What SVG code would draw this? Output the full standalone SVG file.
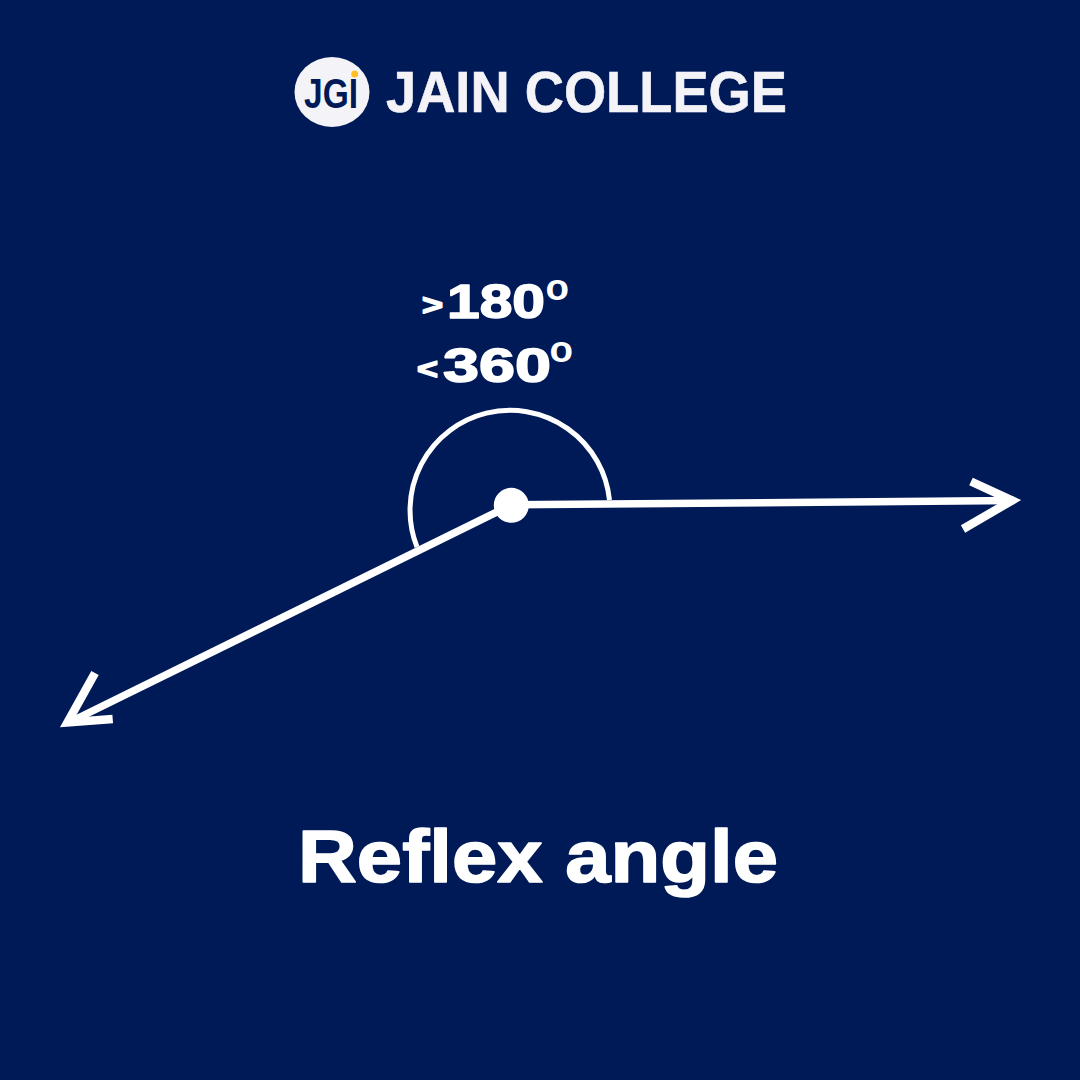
<svg xmlns="http://www.w3.org/2000/svg" width="1080" height="1080" viewBox="0 0 1080 1080">
<style>
.t{font-family:"Liberation Sans",Arial,sans-serif;font-weight:700;fill:#fff}
.b{stroke:#fff;stroke-width:1.600;stroke-linejoin:round}
.l{fill:none;stroke:#fff;stroke-width:7.500}
.h{fill:none;stroke:#fff;stroke-width:8.500;stroke-linejoin:miter;stroke-miterlimit:10}
</style>
<rect width="1080" height="1080" fill="#001a58"/>
<g id="logo">
<ellipse cx="332" cy="92" rx="37.500" ry="35" fill="#f4f4f8"/>
<text class="t" x="304" y="108" font-size="42" textLength="54" lengthAdjust="spacingAndGlyphs" style="fill:#001a58">JGI</text>
<circle cx="354.700" cy="74" r="3.500" fill="#fdc020"/>
<text class="t" x="386" y="111.500" font-size="57" textLength="401" lengthAdjust="spacingAndGlyphs" style="fill:#f4f4f8;stroke:#f4f4f8;stroke-width:.6">JAIN COLLEGE</text>
</g>
<g id="connectors">
<path class="l" d="M511 504.800 L1014 500.600"/>
<path class="h" d="M971 481.500 L1012 500.500 L963 529"/>
<path class="l" d="M511 505 L68 723"/>
<path class="h" d="M95 673 L67.500 722.500 L112.700 719"/>
<path d="M609.500 500 A100 100 0 1 0 417 547" fill="none" stroke="#fff" stroke-width="5"/>
</g>
<g id="vertex"><circle cx="511.300" cy="505.300" r="17.500" fill="#fff"/></g>
<g id="label-180">
<text class="t b" x="422" y="315" font-size="30" textLength="21" lengthAdjust="spacingAndGlyphs">&gt;</text>
<text class="t b" x="447" y="318" font-size="49" textLength="98" lengthAdjust="spacingAndGlyphs">180</text>
<text class="t" x="545.500" y="300" font-size="37" textLength="23.500" lengthAdjust="spacingAndGlyphs">o</text>
</g>
<g id="label-360">
<text class="t b" x="417" y="379" font-size="30" textLength="21" lengthAdjust="spacingAndGlyphs">&lt;</text>
<text class="t b" x="443" y="381.500" font-size="49" textLength="108" lengthAdjust="spacingAndGlyphs">360</text>
<text class="t" x="549.500" y="362" font-size="37" textLength="23.500" lengthAdjust="spacingAndGlyphs">o</text>
</g>
<g id="title">
<text class="t b" x="298" y="881.500" font-size="74" textLength="480" lengthAdjust="spacingAndGlyphs">Reflex angle</text>
</g>
</svg>
